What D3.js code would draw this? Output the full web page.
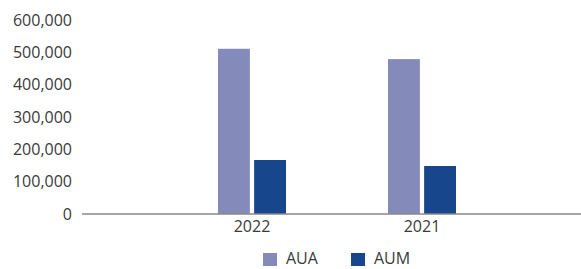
<!DOCTYPE html>
<html><head><meta charset="utf-8">
<script src="https://cdn.jsdelivr.net/npm/d3@7"></script>
<style>body{margin:0;background:#fff}svg{display:block;font-family:"Open Sans",sans-serif}</style>
</head><body><svg id="c" width="581" height="269"></svg>
<script>
const categories = ["2022", "2021"];
const seriesNames = ["AUA", "AUM"];
const aua = [511000, 479000];
const aum = [167000, 148500];
const yTicks = [0, 100000, 200000, 300000, 400000, 500000, 600000];
const colors = ["#848aba", "#17468c"];

const svg = d3.select("#c");
const y = d3.scaleLinear().domain([0, 600000]).range([214, 20]);
const x = d3.scaleBand().domain(categories).range([167, 507]).padding(0);
const sub = d3.scaleBand().domain(seriesNames).range([-34, 34]).paddingInner(8/68);
const values = [aua, aum];

const yAxis = d3.axisLeft(y).tickValues(yTicks).tickFormat(d3.format(",")).tickSize(0).tickPadding(0);
const gy = svg.append("g").attr("transform", "translate(72,0)").call(yAxis);
gy.select(".domain").remove();
gy.selectAll("text").attr("font-size", 16).attr("fill", "#3a3a3a").attr("font-family", "Open Sans, sans-serif");

seriesNames.forEach((s, si) => {
  svg.append("g").selectAll("rect").data(categories).join("rect")
    .attr("x", d => x(d) + x.bandwidth() / 2 + sub(s))
    .attr("width", sub.bandwidth())
    .attr("y", (d, i) => y(values[si][i]))
    .attr("height", (d, i) => y(0) - y(values[si][i]))
    .attr("fill", colors[si]);
});

svg.append("line").attr("x1", 82).attr("x2", 581).attr("y1", y(0)).attr("y2", y(0))
  .attr("stroke", "#888").attr("stroke-width", 1.5);

const xAxis = d3.axisBottom(x).tickSize(0).tickPadding(0);
const gx = svg.append("g").attr("transform", "translate(0,221)").call(xAxis);
gx.select(".domain").remove();
gx.selectAll("text").attr("font-size", 16).attr("fill", "#3a3a3a").attr("font-family", "Open Sans, sans-serif");

const legX = [263, 351];
const leg = svg.append("g");
seriesNames.forEach((s, i) => {
  leg.append("rect").attr("x", legX[i]).attr("y", 253).attr("width", 14).attr("height", 13).attr("fill", colors[i]);
  leg.append("text").attr("x", legX[i] + 23).attr("y", 264).text(s)
    .attr("font-size", 16).attr("fill", "#3a3a3a");
});
</script></body></html>
